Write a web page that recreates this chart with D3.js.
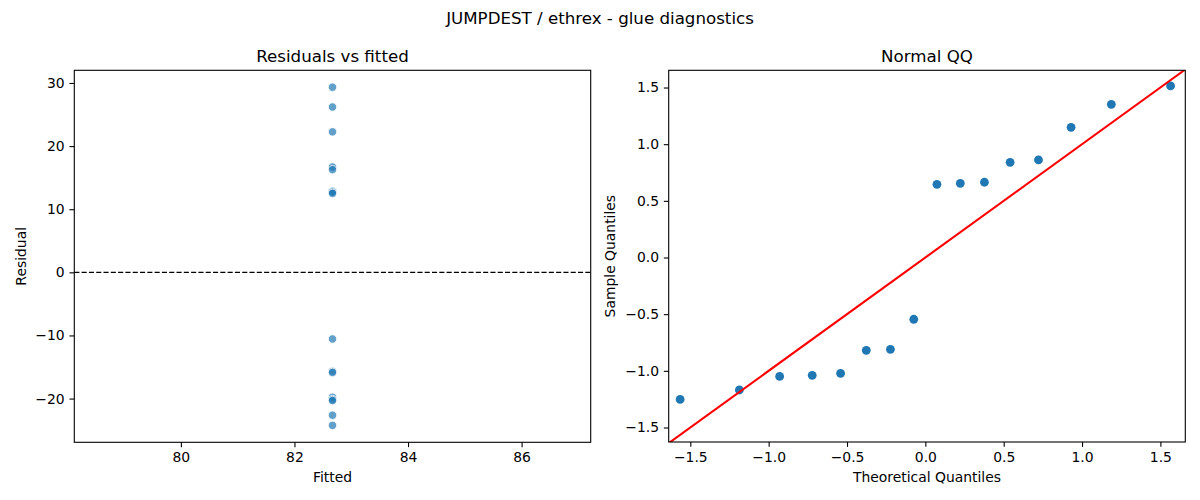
<!DOCTYPE html>
<html>
<head>
<meta charset="utf-8">
<script src="https://cdn.jsdelivr.net/npm/d3@7"></script>
<style>
body { margin: 0; background: #fff; }
text { font-family: "DejaVu Sans", sans-serif; fill: #000; }
.tick text { font-size: 13.9px; }
.domain { display: none; }
</style>
</head>
<body>
<div id="chart"></div>
<script>
// data
let fittedValue = 82.67;
let residuals = [29.33, 26.19, 22.26, 16.68, 16.27, 12.86, 12.69, 12.51,
                 -10.56, -15.69, -15.86, -19.80, -20.14, -20.32, -22.64, -24.25];
let theoretical = [-1.565, -1.187, -0.930, -0.722, -0.541, -0.377, -0.223, -0.074,
                   0.074, 0.223, 0.377, 0.541, 0.722, 0.930, 1.187, 1.565];
let sampleQ = [-1.252, -1.169, -1.049, -1.040, -1.022, -0.819, -0.810, -0.545,
               0.646, 0.655, 0.664, 0.840, 0.861, 1.149, 1.352, 1.514];
let residXTicks = [80, 82, 84, 86];
let residYTicks = [-20, -10, 0, 10, 20, 30];
let qqTicks = [-1.5, -1.0, -0.5, 0.0, 0.5, 1.0, 1.5];

function buildPlot() {

let boxWidth = 1200;
let boxHeight = 500;
let tickLen = 4.86;

let svg = d3.select("#chart")
    .append("svg")
    .attr("width", boxWidth)
    .attr("height", boxHeight);

// figure title
svg.append("text")
    .attr("x", 600)
    .attr("y", 24)
    .attr("text-anchor", "middle")
    .attr("font-size", "16.67px")
    .text("JUMPDEST / ethrex - glue diagnostics");

// panel boxes
let left = {x: 74.3, y: 70.3, w: 516.4, h: 372};
let right = {x: 668.7, y: 70.3, w: 516.6, h: 371.7};

// ---------- residuals vs fitted ----------
// constant x: widen by 5% of value, then 5% margins (like matplotlib)
let half = fittedValue * 0.05 * 1.1;
let rx = d3.scaleLinear()
    .domain([fittedValue - half, fittedValue + half])
    .range([0, left.w]);

let rMin = d3.min(residuals), rMax = d3.max(residuals);
let rPad = (rMax - rMin) * 0.05;
let ry = d3.scaleLinear()
    .domain([rMin - rPad, rMax + rPad])
    .range([left.h, 0]);

let g1 = svg.append("g")
    .attr("transform", `translate(${left.x}, ${left.y})`);

g1.append("g")
    .attr("transform", `translate(0, ${left.h})`)
    .call(d3.axisBottom(rx).tickValues(residXTicks).tickFormat(d3.format("d"))
        .tickSize(tickLen).tickPadding(4.86));

g1.append("g")
    .call(d3.axisLeft(ry).tickValues(residYTicks).tickFormat(d3.format("d"))
        .tickSize(tickLen).tickPadding(4.86));

g1.append("line")
    .attr("x1", 0)
    .attr("x2", left.w)
    .attr("y1", ry(0))
    .attr("y2", ry(0))
    .attr("stroke", "black")
    .attr("stroke-width", 1.1)
    .attr("stroke-dasharray", "5.1,2.2");

g1.selectAll("circle")
    .data(residuals)
    .enter()
    .append("circle")
    .attr("cx", d => rx(fittedValue))
    .attr("cy", d => ry(d))
    .attr("r", 4.2)
    .attr("fill", "#1f77b4")
    .attr("fill-opacity", 0.7)
    .attr("stroke", "white")
    .attr("stroke-width", 0.8);

g1.append("rect")
    .attr("width", left.w)
    .attr("height", left.h)
    .attr("fill", "none")
    .attr("stroke", "black")
    .attr("stroke-width", 1.1);

g1.append("text")
    .attr("x", left.w / 2)
    .attr("y", -8.3)
    .attr("text-anchor", "middle")
    .attr("font-size", "16.67px")
    .text("Residuals vs fitted");

g1.append("text")
    .attr("x", left.w / 2)
    .attr("y", 482 - left.y)
    .attr("text-anchor", "middle")
    .attr("font-size", "13.9px")
    .text("Fitted");

g1.append("text")
    .attr("transform", `translate(${26 - left.x}, ${left.h / 2}) rotate(-90)`)
    .attr("text-anchor", "middle")
    .attr("font-size", "13.9px")
    .text("Residual");

// ---------- normal QQ ----------
let qx = d3.scaleLinear()
    .domain([-1.638, 1.659])
    .range([0, right.w]);

let qy = d3.scaleLinear()
    .domain([-1.628, 1.652])
    .range([right.h, 0]);

let g2 = svg.append("g")
    .attr("transform", `translate(${right.x}, ${right.y})`);

g2.append("clipPath")
    .attr("id", "qqclip")
    .append("rect")
    .attr("width", right.w)
    .attr("height", right.h);

g2.append("g")
    .attr("transform", `translate(0, ${right.h})`)
    .call(d3.axisBottom(qx).tickValues(qqTicks).tickFormat(d3.format(".1f"))
        .tickSize(tickLen).tickPadding(4.86));

g2.append("g")
    .call(d3.axisLeft(qy).tickValues(qqTicks).tickFormat(d3.format(".1f"))
        .tickSize(tickLen).tickPadding(4.86));

g2.selectAll("circle")
    .data(theoretical)
    .enter()
    .append("circle")
    .attr("cx", d => qx(d))
    .attr("cy", (d, i) => qy(sampleQ[i]))
    .attr("r", 4.4)
    .attr("fill", "#1f77b4");

// 45 degree reference line
let lo = Math.min(qx.domain()[0], qy.domain()[0]);
let hi = Math.max(qx.domain()[1], qy.domain()[1]);
g2.append("line")
    .attr("clip-path", "url(#qqclip)")
    .attr("x1", qx(lo))
    .attr("y1", qy(lo))
    .attr("x2", qx(hi))
    .attr("y2", qy(hi))
    .attr("stroke", "red")
    .attr("stroke-width", 2.1);

g2.append("rect")
    .attr("width", right.w)
    .attr("height", right.h)
    .attr("fill", "none")
    .attr("stroke", "black")
    .attr("stroke-width", 1.1);

g2.append("text")
    .attr("x", right.w / 2)
    .attr("y", -8.3)
    .attr("text-anchor", "middle")
    .attr("font-size", "16.67px")
    .text("Normal QQ");

g2.append("text")
    .attr("x", right.w / 2)
    .attr("y", 482 - right.y)
    .attr("text-anchor", "middle")
    .attr("font-size", "13.9px")
    .text("Theoretical Quantiles");

g2.append("text")
    .attr("transform", `translate(${615 - right.x}, ${right.h / 2}) rotate(-90)`)
    .attr("text-anchor", "middle")
    .attr("font-size", "13.9px")
    .text("Sample Quantiles");

// tick line styling
svg.selectAll(".tick line")
    .attr("stroke", "black")
    .attr("stroke-width", 1.1);
}

buildPlot();
</script>
</body>
</html>
